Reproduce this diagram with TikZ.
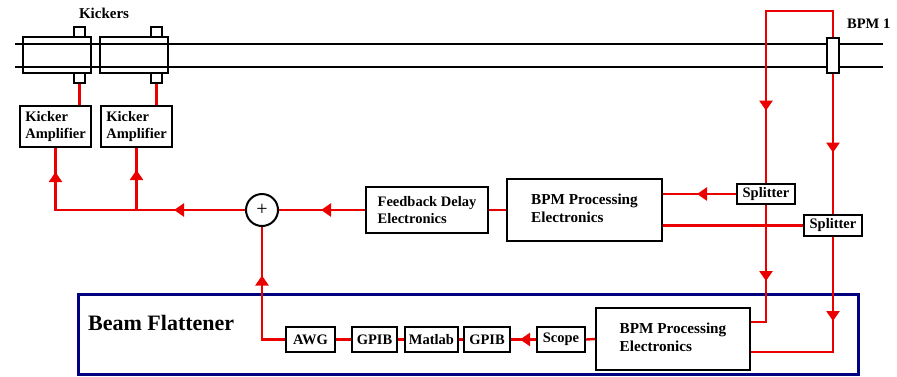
\documentclass[tikz,border=0pt]{standalone}
\usepackage{fontspec}
\setmainfont{Liberation Serif}
\usetikzlibrary{arrows.meta,decorations.markings}
\definecolor{wirered}{RGB}{235,0,0}
\definecolor{framenavy}{RGB}{0,0,128}
\begin{document}
\begin{tikzpicture}[x=1pt,y=-1pt,
  wire/.style={draw=wirered,line width=2.4pt},
  arrowat/.style={postaction={decorate,decoration={markings,
      mark=at position #1 with {\arrow{Triangle[length=10pt,width=13pt]}}}}},
  txt/.style={font=\bfseries\fontsize{14.5}{17.5}\selectfont},
  box/.style={txt,draw,line width=2pt,fill=white,inner sep=0pt,align=left},
  bigtxt/.style={font=\bfseries\fontsize{15.2}{18}\selectfont},
  tagbox/.style={box,minimum height=25pt},
  pipe/.style={draw,line width=1.1pt},
  kickbox/.style={draw,line width=1.2pt,minimum width=68pt,minimum height=36pt,inner sep=0pt},
  tab/.style={draw,fill=white,line width=1.2pt,minimum width=11pt,minimum height=10pt,inner sep=0pt},
 ]
\useasboundingbox (0,0) rectangle (897,376);

% beam pipe
\draw[pipe] (15,44) -- (883,44);
\draw[pipe] (15,67) -- (883,67);

% kicker sections on the pipe
\node[kickbox] (k1) at (57,55) {};
\node[kickbox] (k2) at (134,55) {};
\node[tab] (t1a) at (79.5,32) {};
\node[tab] (t1b) at (79.5,78) {};
\node[tab] (t2a) at (156.5,32) {};
\node[tab] (t2b) at (156.5,78) {};
\node[font=\bfseries\fontsize{15}{18}\selectfont] (kl) at (104,13) {Kickers};

% BPM pickup
\node[draw,fill=white,line width=1.2pt,minimum width=12pt,minimum height=35pt,inner sep=0pt] (pu) at (833,55.5) {};
\node[txt,anchor=west,inner sep=0pt] (pul) at (847,24) {BPM 1};

% kicker amplifiers
\node[box,minimum width=71pt,minimum height=41pt] (amp1) at (55.5,126.5) {Kicker\\Amplifier};
\node[box,minimum width=71pt,minimum height=41pt] (amp2) at (136.5,126.5) {Kicker\\Amplifier};

% summing junction
\node[circle,draw,line width=2pt,fill=white,minimum size=32pt,inner sep=0pt,
      font=\fontsize{20}{20}\selectfont] (sum) at (262,210) {+};

% feedback chain
\node[box,minimum width=122pt,minimum height=46pt] (fd) at (427,210) {Feedback Delay\\Electronics};
\node[box,bigtxt,minimum width=155pt,minimum height=62pt] (bpma) at (584.5,210) {BPM Processing\\Electronics\vphantom{g}};
\node[box,minimum width=58pt,minimum height=20pt] (sp1) at (766,194) {Splitter};
\node[box,minimum width=58pt,minimum height=21pt] (sp2) at (833,225.5) {Splitter};

% beam flattener
\draw[framenavy,line width=3pt] (78,294) rectangle (858,374.5);
\node[anchor=west,inner sep=0pt,font=\bfseries\fontsize{22}{26}\selectfont] (bfl) at (88,323) {Beam Flattener};
\node[tagbox,minimum width=49pt] (awg) at (310.5,339.5) {AWG};
\node[tagbox,minimum width=45pt] (gpiba) at (374.5,339.5) {GPIB};
\node[tagbox,minimum width=53pt] (matlab) at (431.5,339.5) {Matlab};
\node[tagbox,minimum width=46pt] (gpibb) at (487,339.5) {GPIB};
\node[tagbox,minimum width=48pt] (scope) at (561,339.5) {Scope};
\node[box,bigtxt,minimum width=154pt,minimum height=62pt] (bpmb) at (673,339) {BPM Processing\\Electronics\vphantom{g}};

% kicker drive
\draw[wire] (t1b.south) -- (t1b.south |- amp1.north);
\draw[wire] (t2b.south) -- (t2b.south |- amp2.north);
\coordinate (j1) at (amp1.south |- sum.west);
\coordinate (j2) at (amp2.south |- sum.west);
\draw[wire,arrowat=71pt,arrowat=227.5pt] (sum.west) -- (j1) -- (amp1.south);
\draw[wire,arrowat=40pt] (j2) -- (amp2.south);

% feedback path
\draw[wire,arrowat=44pt] (fd.west) -- (sum.east);
\draw[wire] (bpma.west) -- (fd.east);
\draw[wire,arrowat=39pt] (sp1.west) -- (sp1.west -| bpma.east);
\draw[wire] (sp2.west) -- (sp2.west -| bpma.east);

% pickup signals
\coordinate (top) at (766,11);
\draw[wire,arrowat=193pt] (pu.north) |- (top) -- (sp1.north);
\draw[wire,arrowat=79pt] (pu.south) -- (sp2.north);
\coordinate (c1) at (766,322);
\coordinate (c2) at (833,352);
\draw[wire,arrowat=76pt] (sp1.south) -- (c1) -- (c1 -| bpmb.east);
\draw[wire,arrowat=84pt] (sp2.south) -- (c2) -- (c2 -| bpmb.east);

% flattener chain
\draw[wire] (bpmb.west) -- (scope.east);
\draw[wire,arrowat=16pt] (scope.west) -- (gpibb.east);
\draw[wire] (gpibb.west) -- (matlab.east);
\draw[wire] (matlab.west) -- (gpiba.east);
\draw[wire] (gpiba.west) -- (awg.east);
\draw[wire,arrowat=87pt] (awg.west) -| (sum.south);
\end{tikzpicture}
\end{document}
